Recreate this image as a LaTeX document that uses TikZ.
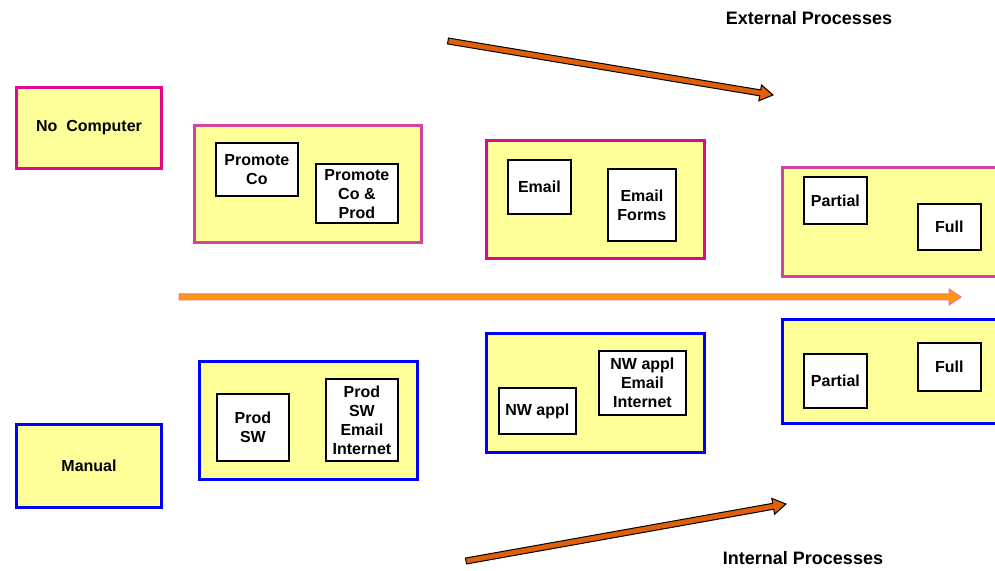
\documentclass[tikz,border=0pt]{standalone}
\usepackage{fontspec}
\setmainfont{Liberation Sans}
\usetikzlibrary{calc}
\definecolor{boxfill}{HTML}{FFFF99}
\definecolor{magA}{HTML}{E0088C}
\definecolor{magB}{HTML}{D2449E}
\definecolor{blueB}{HTML}{0000FF}
\definecolor{arrO}{HTML}{E0600A}
\definecolor{arrH}{HTML}{FF9A10}
\definecolor{arrHl}{HTML}{F07090}
\tikzset{
  every node/.style={font=\fontsize{16}{19}\selectfont\bfseries, align=center, inner sep=0pt},
  outerb/.style={fill=boxfill, line width=3pt, anchor=south west},
  magbox/.style={outerb, draw=magA},
  pinkbox/.style={outerb, draw=magB},
  bluebox/.style={outerb, draw=blueB},
  inbox/.style={draw=black, fill=white, line width=1.8pt, anchor=south west},
  lbl/.style={font=\fontsize{18}{21}\selectfont\bfseries},
}
\newcommand\fatarrow[6]{% A, B, half-width, head half-width, head length, style
  \coordinate (hC) at ($(#2)!#5!(#1)$);
  \filldraw[#6] ($(#1)!#3!90:(#2)$) -- ($(hC)!#3!90:(#2)$) -- ($(hC)!#4!90:(#2)$) -- (#2)
    -- ($(hC)!#4!-90:(#2)$) -- ($(hC)!#3!-90:(#2)$) -- ($(#1)!#3!-90:(#2)$) -- cycle;
}
\begin{document}
\begin{tikzpicture}[x=1pt,y=1pt]
\useasboundingbox (0,0) rectangle (995,570);
\clip (0,0) rectangle (995,570);
% external
\node[magbox, minimum width=145pt, minimum height=81pt] (nocomp) at (15,400) {No\ \ Computer};
\node[pinkbox, minimum width=227pt, minimum height=117pt] (e1) at (193,326) {};
\node[inbox, minimum width=82pt, minimum height=53pt] (promco) at (215,373) {Promote\\Co};
\node[inbox, minimum width=82pt, minimum height=59pt] (promcp) at (315,346) {Promote\\Co \&\\Prod};
\node[magbox, minimum width=218pt, minimum height=118pt] (e2) at (485,310) {};
\node[inbox, minimum width=63pt, minimum height=54pt] (email) at (507,355) {Email};
\node[inbox, minimum width=68pt, minimum height=72pt] (emailf) at (607,328) {Email\\Forms};
\node[pinkbox, minimum width=228pt, minimum height=109pt] (e3) at (781,292) {};
\node[inbox, minimum width=63pt, minimum height=47pt] (epart) at (803,345) {Partial};
\node[inbox, minimum width=63pt, minimum height=46pt] (efull) at (917,319) {Full};
% internal
\node[bluebox, minimum width=145pt, minimum height=83pt] (manual) at (15,61) {Manual};
\node[bluebox, minimum width=218pt, minimum height=118pt] (i1) at (198,89) {};
\node[inbox, minimum width=72pt, minimum height=67pt] (prodsw) at (216,108) {Prod\\SW};
\node[inbox, minimum width=72pt, minimum height=82pt] (prodswei) at (325,108) {Prod\\SW\\Email\\Internet};
\node[bluebox, minimum width=218pt, minimum height=119pt] (i2) at (485,116) {};
\node[inbox, minimum width=77pt, minimum height=46pt] (nw) at (498,135) {NW appl};
\node[inbox, minimum width=87pt, minimum height=64pt] (nwei) at (598,154) {NW appl\\Email\\Internet};
\node[bluebox, minimum width=228pt, minimum height=104pt] (i3) at (781,145) {};
\node[inbox, minimum width=63pt, minimum height=54pt] (ipart) at (803,161) {Partial};
\node[inbox, minimum width=63pt, minimum height=48pt] (ifull) at (917,178) {Full};
% labels
\node[lbl] (ext) at (809,552) {External Processes};
\node[lbl] (int) at (803,12) {Internal Processes};
% arrows
\coordinate (tA) at (448,529); \coordinate (tB) at (773,475);
\coordinate (bA) at (466,9);   \coordinate (bB) at (786,66);
\coordinate (hA) at (179,273); \coordinate (hB) at (961,273);
\fatarrow{tA}{tB}{3pt}{8pt}{13pt}{fill=arrO, draw=black, line width=1pt}
\fatarrow{bA}{bB}{3pt}{8pt}{13pt}{fill=arrO, draw=black, line width=1pt}
\fatarrow{hA}{hB}{3pt}{8pt}{12pt}{fill=arrH, draw=arrHl, line width=1pt}
\end{tikzpicture}
\end{document}
